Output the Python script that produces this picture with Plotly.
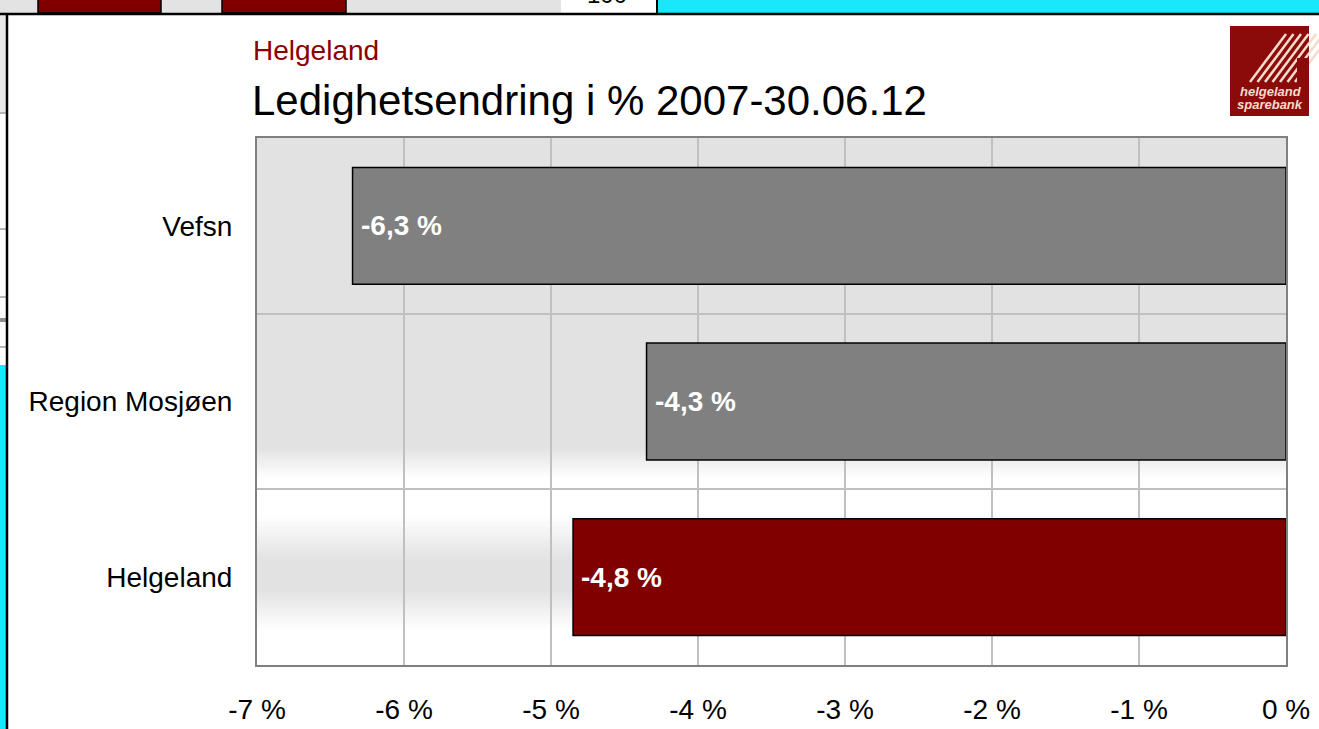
import plotly.graph_objects as go

# ---------------- data ----------------
categories = ["Vefsn", "Region Mosjøen", "Helgeland"]
values = [-6.35, -4.35, -4.85]
value_labels = ["-6,3 %", "-4,3 %", "-4,8 %"]
bar_colors = ["#808080", "#808080", "#800000"]
x_ticks = [-7, -6, -5, -4, -3, -2, -1, 0]
x_tick_labels = ["-7 %", "-6 %", "-5 %", "-4 %", "-3 %", "-2 %", "-1 %", "0 %"]
supertitle = "Helgeland"
title = "Ledighetsendring i % 2007-30.06.12"

W, H = 1319, 729
L, R, T, B = 257, 33, 138, 64
PW, PH = W - L - R, H - T - B
FONT = "Liberation Sans, Arial, sans-serif"


def px(x, y):
    """pixel -> paper coords"""
    return (x - L) / PW, (H - B - y) / PH


fig = go.Figure()
fig.add_trace(go.Bar(
    y=categories, x=values, orientation="h",
    marker=dict(color=bar_colors, line=dict(color="black", width=1.5)),
    width=0.665, hoverinfo="skip",
))

shapes = []
annotations = []

# gradient plot background (horizontal bands)
stops = [(138, 226), (448, 226), (478, 255), (515, 255), (560, 226),
         (590, 226), (630, 255), (665, 255)]
for i in range(len(stops) - 1):
    (y0, c0), (y1, c1) = stops[i], stops[i + 1]
    n = max(1, int((y1 - y0) / 2))
    for k in range(n):
        ya = y0 + (y1 - y0) * k / n
        yb = min(665, y0 + (y1 - y0) * (k + 1) / n + 1)
        c = int(round(c0 + (c1 - c0) * (k + 0.5) / n))
        _, pa = px(0, ya)
        _, pb = px(0, yb)
        shapes.append(dict(type="rect", xref="paper", yref="paper", x0=0, x1=1,
                           y0=pb, y1=pa, layer="below", line=dict(width=0),
                           fillcolor=f"rgb({c},{c},{c})"))


def rect(x0, y0, x1, y1, color, line=None):
    a0, b0 = px(x0, y0)
    a1, b1 = px(x1, y1)
    shapes.append(dict(type="rect", xref="paper", yref="paper", x0=a0, x1=a1,
                       y0=b1, y1=b0, layer="above", fillcolor=color,
                       line=line or dict(width=0)))


def line(x0, y0, x1, y1, color, width):
    a0, b0 = px(x0, y0)
    a1, b1 = px(x1, y1)
    shapes.append(dict(type="line", xref="paper", yref="paper", x0=a0, x1=a1,
                       y0=b0, y1=b1, layer="above", line=dict(color=color, width=width)))


def text(x, y, s, size, color, xanchor="center", yanchor="middle"):
    a, b = px(x, y)
    annotations.append(dict(x=a, y=b, xref="paper", yref="paper", text=s,
                            xanchor=xanchor, yanchor=yanchor, showarrow=False,
                            font=dict(size=size, color=color, family=FONT)))


# surrounding screenshot decorations
rect(0, 0, 561, 13, "#e3e3e3")
rect(38, -2, 161, 13, "#800000", dict(color="black", width=1.5))
rect(222, -2, 346, 13, "#800000", dict(color="black", width=1.5))
rect(561, 0, 656, 13, "white")
rect(658, 0, 1319, 13, "#1ae6fc")
line(657, 0, 657, 14, "black", 2)
rect(0, 13, 6, 113, "#e8e8e8")
rect(0, 365, 6, 729, "#1ae6fc")
for yy in (113, 229, 297, 347):
    line(0, yy, 6, yy, "#a0a0a0", 1.5)
line(0, 320, 6, 320, "#909090", 4)
line(0, 14, 1319, 14, "black", 2.5)
line(7, 13, 7, 729, "black", 2.5)
text(607, 10, "100", 24, "black", yanchor="bottom")

# logo
rect(1230, 26, 1309, 116, "#8b0a0a")
for i in range(7):
    x0 = 1250 + i * 7.5
    line(x0, 82, x0 + 36, 34, "#f3dccb", 2.5)
rect(1230, 26, 1262, 60, "#8b0a0a")
rect(1297, 58, 1309, 88, "#8b0a0a")
text(1271, 91, "<b><i>helgeland</i></b>", 13, "#f3dccb")
text(1270, 104, "<b><i>sparebank</i></b>", 13, "#f3dccb")

# titles
text(251, 50, supertitle, 28, "#8b0000", xanchor="left")
text(250, 100, title, 42, "black", xanchor="left")

# value labels inside bars
for cat, v, lab in zip(categories, values, value_labels):
    annotations.append(dict(x=v, y=cat, xref="x", yref="y", text=f"<b>{lab}</b>",
                            xanchor="left", yanchor="middle", xshift=6, showarrow=False,
                            font=dict(size=28, color="white", family=FONT)))

fig.update_layout(
    width=W, height=H, autosize=False,
    margin=dict(l=L, r=R, t=T, b=B, pad=0, autoexpand=False),
    paper_bgcolor="white", plot_bgcolor="rgba(0,0,0,0)",
    showlegend=False, bargap=0.335,
    shapes=shapes, annotations=annotations,
    font=dict(family=FONT, color="black"),
    xaxis=dict(range=[-7, 0], tickvals=x_ticks, ticktext=x_tick_labels, automargin=False,
               showgrid=True, gridcolor="#c0c0c0", gridwidth=2, zeroline=False,
               showline=True, mirror=True, linecolor="#808080", linewidth=2,
               ticks="", ticklabelstandoff=18, tickfont=dict(size=28, family=FONT)),
    yaxis=dict(categoryorder="array", categoryarray=categories[::-1], automargin=False,
               tickson="boundaries", showgrid=True, gridcolor="#c0c0c0", gridwidth=2,
               showline=True, mirror=True, linecolor="#808080", linewidth=2,
               ticks="", ticklabelstandoff=17, tickfont=dict(size=28, family=FONT)),
)

fig.write_html("out.html", config={"displayModeBar": False},
               post_script="document.body.style.margin='0';document.body.style.overflow='hidden';")
